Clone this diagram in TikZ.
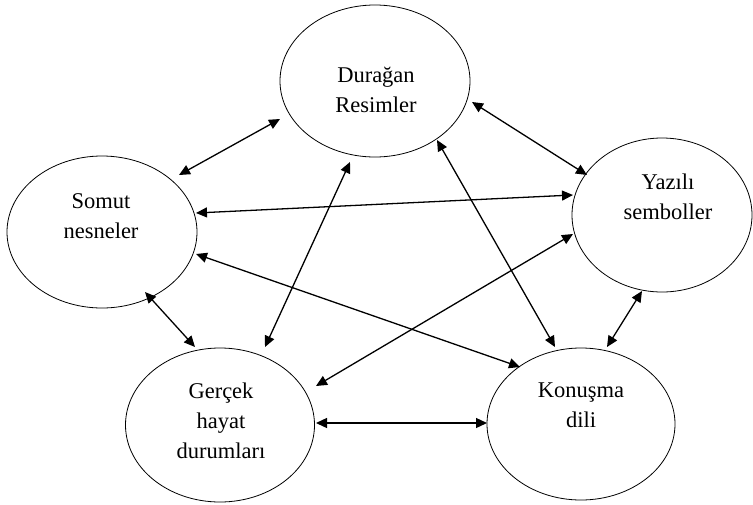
\documentclass[tikz,border=0pt]{standalone}
\usepackage{fontspec}
\setmainfont{Liberation Serif}
\usetikzlibrary{shapes.geometric,arrows.meta}
\begin{document}
\begin{tikzpicture}[x=1pt,y=-1pt,
  oval/.style={ellipse,draw=black,line width=0.8pt,inner sep=0pt,minimum width=190pt,minimum height=152pt},
  lbl/.style={align=center,inner sep=0pt,font=\fontsize{22.5pt}{30pt}\selectfont},
  arr/.style={{Triangle[length=11pt,width=10pt]}-{Triangle[length=11pt,width=10pt]},line width=1.3pt}]
\useasboundingbox[fill=white] (0,0) rectangle (753,504);
\node[oval] (D) at (375,81) {};
\node[oval] (S) at (102,232) {};
\node[oval,minimum width=180pt,minimum height=154pt] (Y) at (662,215) {};
\node[oval,minimum width=189pt,minimum height=154pt] (G) at (220,425) {};
\node[oval,minimum width=188pt] (K) at (581,424) {};
\node[lbl] (Dt) at (376,90) {Durağan\\Resimler};
\node[lbl] (St) at (101,216) {Somut\\nesneler};
\node[lbl] (Yt) at (668,197) {Yazılı\\semboller};
\node[lbl] (Gt) at (221,421) {Gerçek\\hayat\\durumları};
\node[lbl] (Kt) at (581,405) {Konuşma\\dili};
\draw[arr] ([shift={(77,-57)}]S.center) -- ([shift={(-95,38)}]D.center);
\draw[arr] ([shift={(97,21)}]D.center) -- ([shift={(-75,-40)}]Y.center);
\draw[arr] ([shift={(94,-19)}]S.center) -- ([shift={(-89,-20)}]Y.center);
\draw[arr] ([shift={(94,22)}]S.center) -- ([shift={(-61,-57)}]K.center);
\draw[arr] ([shift={(43,60)}]S.center) -- ([shift={(-25,-78)}]G.center);
\draw[arr] ([shift={(-25,81)}]D.center) -- ([shift={(45,-78)}]G.center);
\draw[arr] ([shift={(62,59)}]D.center) -- ([shift={(-26,-77)}]K.center);
\draw[arr] ([shift={(-89,19)}]Y.center) -- ([shift={(96,-39)}]G.center);
\draw[arr] ([shift={(-20,76)}]Y.center) -- ([shift={(26,-77)}]K.center);
\draw[arr] ([shift={(96,-2)}]G.center) -- ([shift={(-94,-1)}]K.center);
\end{tikzpicture}
\end{document}
